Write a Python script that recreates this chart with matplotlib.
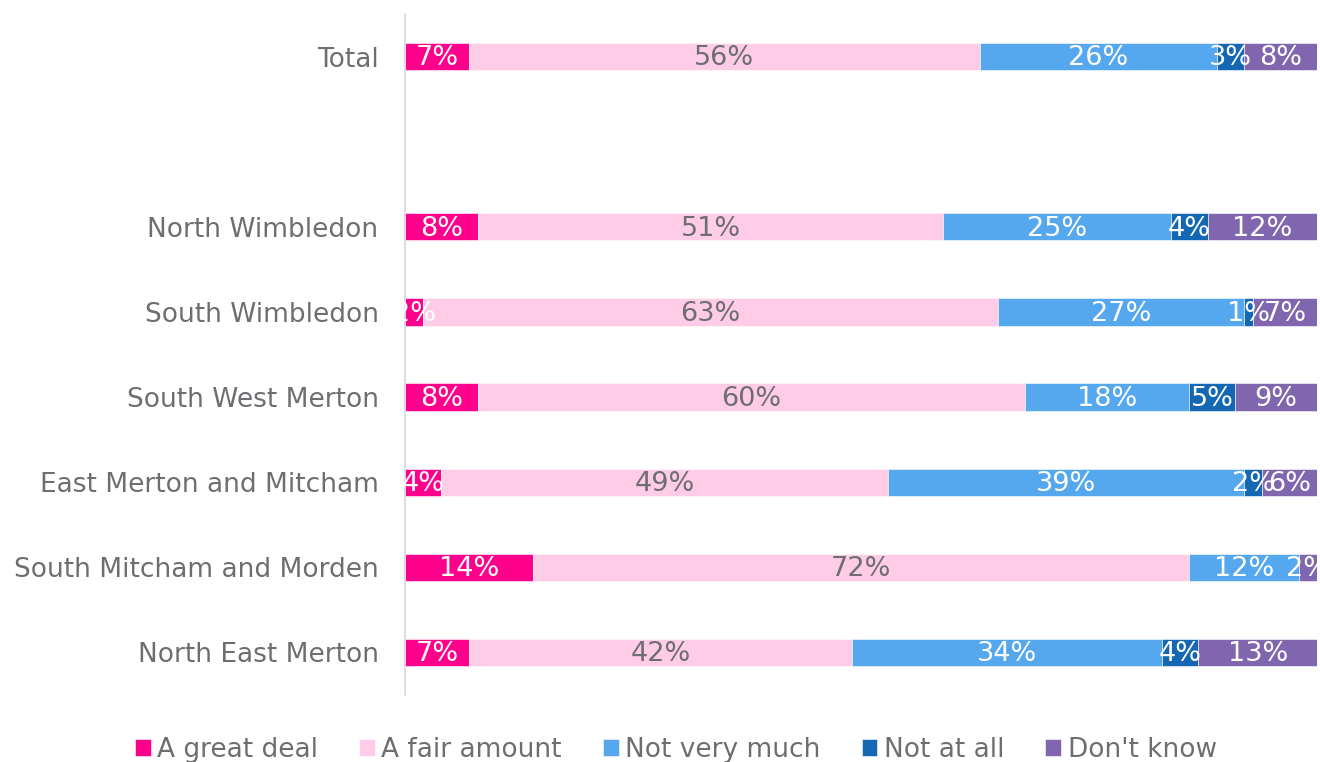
import matplotlib
matplotlib.use("Agg")
import matplotlib.pyplot as plt
import numpy as np

categories = ["Total", "", "North Wimbledon", "South Wimbledon", "South West Merton",
              "East Merton and Mitcham", "South Mitcham and Morden", "North East Merton"]
series_names = ["A great deal", "A fair amount", "Not very much", "Not at all", "Don't know"]
great_deal = [7, None, 8, 2, 8, 4, 14, 7]
fair_amount = [56, None, 51, 63, 60, 49, 72, 42]
not_very_much = [26, None, 25, 27, 18, 39, 12, 34]
not_at_all = [3, None, 4, 1, 5, 2, 0, 4]
dont_know = [8, None, 12, 7, 9, 6, 2, 13]
colors = ["#FF008C", "#FFCCE8", "#55A7EE", "#1467B3", "#7F66AF"]
label_colors = ["white", "#6D6E71", "white", "white", "white"]

series = [great_deal, fair_amount, not_very_much, not_at_all, dont_know]

plt.rcParams['font.family'] = ['DejaVu Sans']
fig = plt.figure(figsize=(13.2, 7.62), dpi=100)
ax = fig.add_axes([405/1320, 1-695/762, (1317-405)/1320, (695-14)/762])

y = np.arange(len(categories))
left = np.zeros(len(categories))
for name, vals, col, lc in zip(series_names, series, colors, label_colors):
    v = np.array([0 if x is None else x for x in vals], dtype=float)
    ax.barh(y, v, left=left, height=0.32, color=col, label=name,
            edgecolor="white", linewidth=0.4)
    for i, (val, raw) in enumerate(zip(v, vals)):
        if raw is not None and val > 0:
            ax.text(left[i] + val/2, y[i] + 0.02, f"{int(val)}%", ha="center", va="center",
                    color=lc, fontsize=19.5)
    left += v

ax.set_xlim(0, 100)
ax.set_ylim(len(categories) - 0.5, -0.5)
ax.set_yticks(y)
ax.set_yticklabels(categories, fontsize=19, color="#6D6E71")
ax.tick_params(axis="y", length=0, pad=19)
ax.set_xticks([])
for s in ["top", "right", "bottom"]:
    ax.spines[s].set_visible(False)
ax.spines["left"].set_color("#D9D9D9")
ax.spines["left"].set_linewidth(1.2)

leg = fig.legend(loc="center", bbox_to_anchor=(0.512, 1-750/762), ncol=5, frameon=False,
                 fontsize=19, handlelength=0.6, handleheight=0.6, handletextpad=0.25,
                 columnspacing=1.55, labelcolor="#6D6E71")
fig.savefig("out.png", dpi=100)
